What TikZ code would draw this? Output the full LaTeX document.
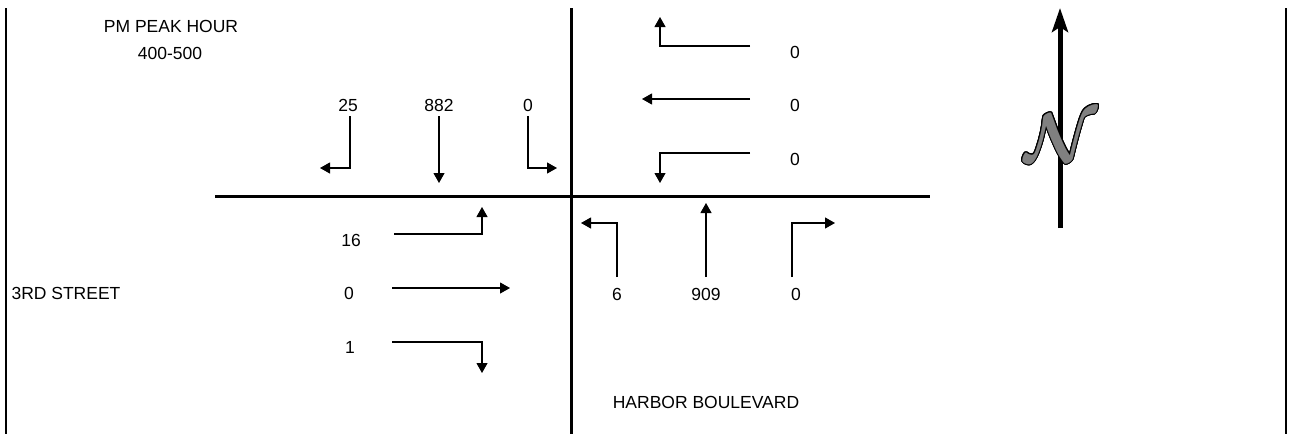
\documentclass[tikz,border=0pt]{standalone}
\usepackage{fontspec}
\setmainfont{Liberation Sans}
\usepackage{graphicx}
\usepackage{bm}
\usepackage[copies]{contour}
\usetikzlibrary{arrows.meta}
\tikzset{
  road/.style={line width=2.4pt},
  frameline/.style={line width=2pt},
  mv/.style={line width=1.1pt, -{Triangle[length=10pt,width=11pt]}},
  lbl/.style={font=\fontsize{17.5}{20}\selectfont},
  northarrow/.style={line width=5pt, -{Stealth[length=24pt,width=16pt,inset=5pt]}}
}
\definecolor{ngray}{RGB}{128,128,128}
\begin{document}
\begin{tikzpicture}[x=1pt,y=-1pt]
\useasboundingbox (0,0) rectangle (1293,434);
% frame lines
\coordinate (lt) at (6,8); \coordinate (lb) at (6,434);
\coordinate (rt) at (1286,8); \coordinate (rb) at (1286,434);
\draw[frameline] (lt) -- (lb);
\draw[frameline] (rt) -- (rb);
% roads
\coordinate (rw) at (215,196.5); \coordinate (re) at (930,196.5);
\coordinate (rn) at (571.5,8); \coordinate (rs) at (571.5,434);
\draw[road] (rw) -- (re);
\draw[road] (rn) -- (rs);
% titles
\node[lbl] (peak) at (171,26) {PM PEAK HOUR};
\node[lbl] (hours) at (170,53) {400-500};
\node[lbl,anchor=west] (third) at (8,293) {3RD STREET};
\node[lbl] (harbor) at (706,402) {HARBOR BOULEVARD};
% southbound approach
\node[lbl] (s25) at (348,105) {25};
\node[lbl] (s882) at (439,105) {882};
\node[lbl] (s0) at (528,105) {0};
\coordinate (s25a) at (350,116); \coordinate (s25b) at (350,168); \coordinate (s25c) at (320,168);
\draw[mv] (s25a) -- (s25b) -- (s25c);
\coordinate (s882a) at (439,116); \coordinate (s882b) at (439,183);
\draw[mv] (s882a) -- (s882b);
\coordinate (s0a) at (528,116); \coordinate (s0b) at (528,168); \coordinate (s0c) at (557,168);
\draw[mv] (s0a) -- (s0b) -- (s0c);
% westbound approach
\node[lbl] (w1) at (795,52) {0};
\node[lbl] (w2) at (795,105) {0};
\node[lbl] (w3) at (795,159) {0};
\coordinate (w1a) at (750,46); \coordinate (w1b) at (660,46); \coordinate (w1c) at (660,17);
\draw[mv] (w1a) -- (w1b) -- (w1c);
\coordinate (w2a) at (750,99); \coordinate (w2b) at (642,99);
\draw[mv] (w2a) -- (w2b);
\coordinate (w3a) at (750,153); \coordinate (w3b) at (660,153); \coordinate (w3c) at (660,183);
\draw[mv] (w3a) -- (w3b) -- (w3c);
% eastbound approach
\node[lbl] (e1) at (351,240) {16};
\node[lbl] (e2) at (349,293) {0};
\node[lbl] (e3) at (350,347) {1};
\coordinate (e1a) at (394,234); \coordinate (e1b) at (482,234); \coordinate (e1c) at (482,207);
\draw[mv] (e1a) -- (e1b) -- (e1c);
\coordinate (e2a) at (392,288); \coordinate (e2b) at (510,288);
\draw[mv] (e2a) -- (e2b);
\coordinate (e3a) at (392,342); \coordinate (e3b) at (482,342); \coordinate (e3c) at (482,373);
\draw[mv] (e3a) -- (e3b) -- (e3c);
% northbound approach
\node[lbl] (n6) at (617,294) {6};
\node[lbl] (n909) at (706,294) {909};
\node[lbl] (n0) at (796,294) {0};
\coordinate (n6a) at (617,277); \coordinate (n6b) at (617,223); \coordinate (n6c) at (581,223);
\draw[mv] (n6a) -- (n6b) -- (n6c);
\coordinate (n909a) at (706,277); \coordinate (n909b) at (706,203);
\draw[mv] (n909a) -- (n909b);
\coordinate (n0a) at (792,277); \coordinate (n0b) at (792,223); \coordinate (n0c) at (835,223);
\draw[mv] (n0a) -- (n0b) -- (n0c);
% north arrow
\coordinate (na) at (1060,228); \coordinate (nb) at (1060,8);
\draw[northarrow] (na) -- (nb);
\contourlength{0.8pt}
\node[inner sep=0pt] (nsym) at (1061,138) {\contour{black}{\scalebox{6.7}[6.9]{\textcolor{ngray}{$\bm{\mathcal{N}}$}}}};
\end{tikzpicture}
\end{document}
